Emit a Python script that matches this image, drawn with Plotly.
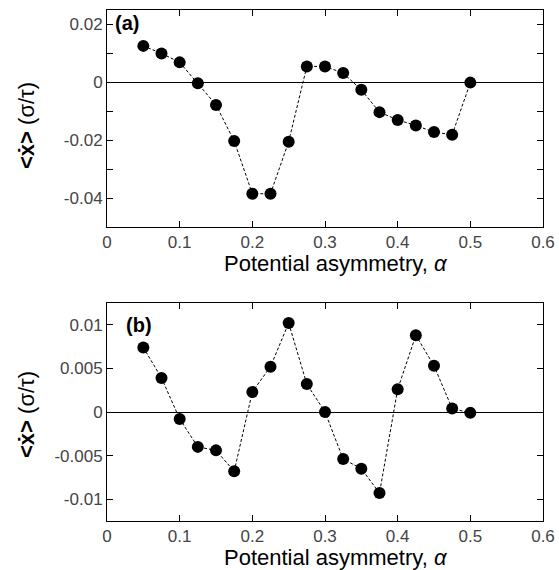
import plotly.graph_objects as go

alpha = [0.05, 0.075, 0.1, 0.125, 0.15, 0.175, 0.2, 0.225, 0.25, 0.275,
         0.3, 0.325, 0.35, 0.375, 0.4, 0.425, 0.45, 0.475, 0.5]

vel_a = [0.0126, 0.0100, 0.0069, -0.0003, -0.0078, -0.0203, -0.0385, -0.0385,
         -0.0205, 0.0055, 0.0055, 0.0032, -0.0026, -0.0103, -0.0130, -0.0149,
         -0.0172, -0.0181, -0.0001]

vel_b = [0.0074, 0.0039, -0.0008, -0.0040, -0.0044, -0.0068, 0.0023, 0.0052,
         0.0102, 0.0032, 0.0000, -0.0054, -0.0065, -0.0093, 0.0026, 0.0088,
         0.0053, 0.0004, -0.0001]

x_ticks = [0, 0.1, 0.2, 0.3, 0.4, 0.5, 0.6]
x_ticktext = ["0", "0.1", "0.2", "0.3", "0.4", "0.5", "0.6"]
ya_ticks = [0.02, 0, -0.02, -0.04]
ya_ticktext = ["0.02", "0", "-0.02", "-0.04"]
yb_ticks = [0.01, 0.005, 0, -0.005, -0.01]
yb_ticktext = ["0.01", "0.005", "0", "-0.005", "-0.01"]

W, H = 559, 570


def px(x):
    return x / W


def py(y):
    return 1 - y / H


X0, X1 = 107, 543
A_TOP, A_BOT = 10, 227
B_TOP, B_BOT = 303, 521

fig = go.Figure()

for vals, xa, ya in [(vel_a, "x", "y"), (vel_b, "x2", "y2")]:
    fig.add_trace(go.Scatter(
        x=alpha, y=vals, xaxis=xa, yaxis=ya, mode="lines+markers",
        line=dict(color="black", width=1, dash="3px,2px"),
        marker=dict(color="black", size=12),
        showlegend=False, cliponaxis=False))

FAM = "Liberation Sans, Arial, sans-serif"
tickfont = dict(family=FAM, size=17, color="#444")
common_x = dict(range=[0, 0.6], tickvals=x_ticks, ticktext=x_ticktext,
                ticks="inside", ticklen=6, tickcolor="black", showline=True,
                linecolor="black", linewidth=1, mirror="ticks", showgrid=False,
                zeroline=False, tickfont=tickfont, domain=[px(X0), px(X1)],
                automargin=False)
common_y = dict(ticks="inside", ticklen=6, tickcolor="black", showline=True,
                linecolor="black", linewidth=1, mirror="ticks", showgrid=False,
                zeroline=True, zerolinecolor="black", zerolinewidth=1,
                tickfont=tickfont, automargin=False)

fig.update_layout(
    width=W, height=H, margin=dict(l=0, r=0, t=0, b=0),
    paper_bgcolor="white", plot_bgcolor="white",
    xaxis=dict(**common_x, anchor="y"),
    yaxis=dict(**common_y, range=[-0.05, 0.025], tickvals=ya_ticks,
               ticktext=ya_ticktext, anchor="x",
               minor=dict(dtick=0.01, tick0=0, ticks="inside", ticklen=6,
                          tickcolor="black"),
               domain=[py(A_BOT), py(A_TOP)]),
    xaxis2=dict(**common_x, anchor="y2"),
    yaxis2=dict(**common_y, range=[-0.0125, 0.0125], tickvals=yb_ticks,
                ticktext=yb_ticktext, anchor="x2",
                domain=[py(B_BOT), py(B_TOP)]),
)

title_font = dict(family=FAM, size=22, color="black")
ytitle_font = dict(family=FAM, size=22, color="black")
xtitle = "Potential asymmetry, <i>α</i>"
ytitle = "<b>&lt;ẋ&gt;</b> (σ/τ)"

for ymid_px in [263, 557]:
    fig.add_annotation(text=xtitle, xref="paper", yref="paper", x=px(336),
                       y=py(ymid_px), xanchor="center", yanchor="middle",
                       showarrow=False, font=title_font)
for ymid_px in [126, 415]:
    fig.add_annotation(text=ytitle, xref="paper", yref="paper", x=px(26),
                       y=py(ymid_px), xanchor="center", yanchor="middle",
                       textangle=-90, showarrow=False, font=ytitle_font)
fig.add_annotation(text="<b>(a)</b>", xref="paper", yref="paper", x=px(113),
                   y=py(23), xanchor="left", yanchor="middle",
                   showarrow=False, font=dict(family=FAM, size=20, color="black"))
fig.add_annotation(text="<b>(b)</b>", xref="paper", yref="paper", x=px(124),
                   y=py(325), xanchor="left", yanchor="middle",
                   showarrow=False, font=dict(family=FAM, size=20, color="black"))

fig.write_html(
    "out.html",
    config={"displayModeBar": False},
    post_script="document.body.style.margin='0';"
                "document.body.style.overflow='hidden';")
